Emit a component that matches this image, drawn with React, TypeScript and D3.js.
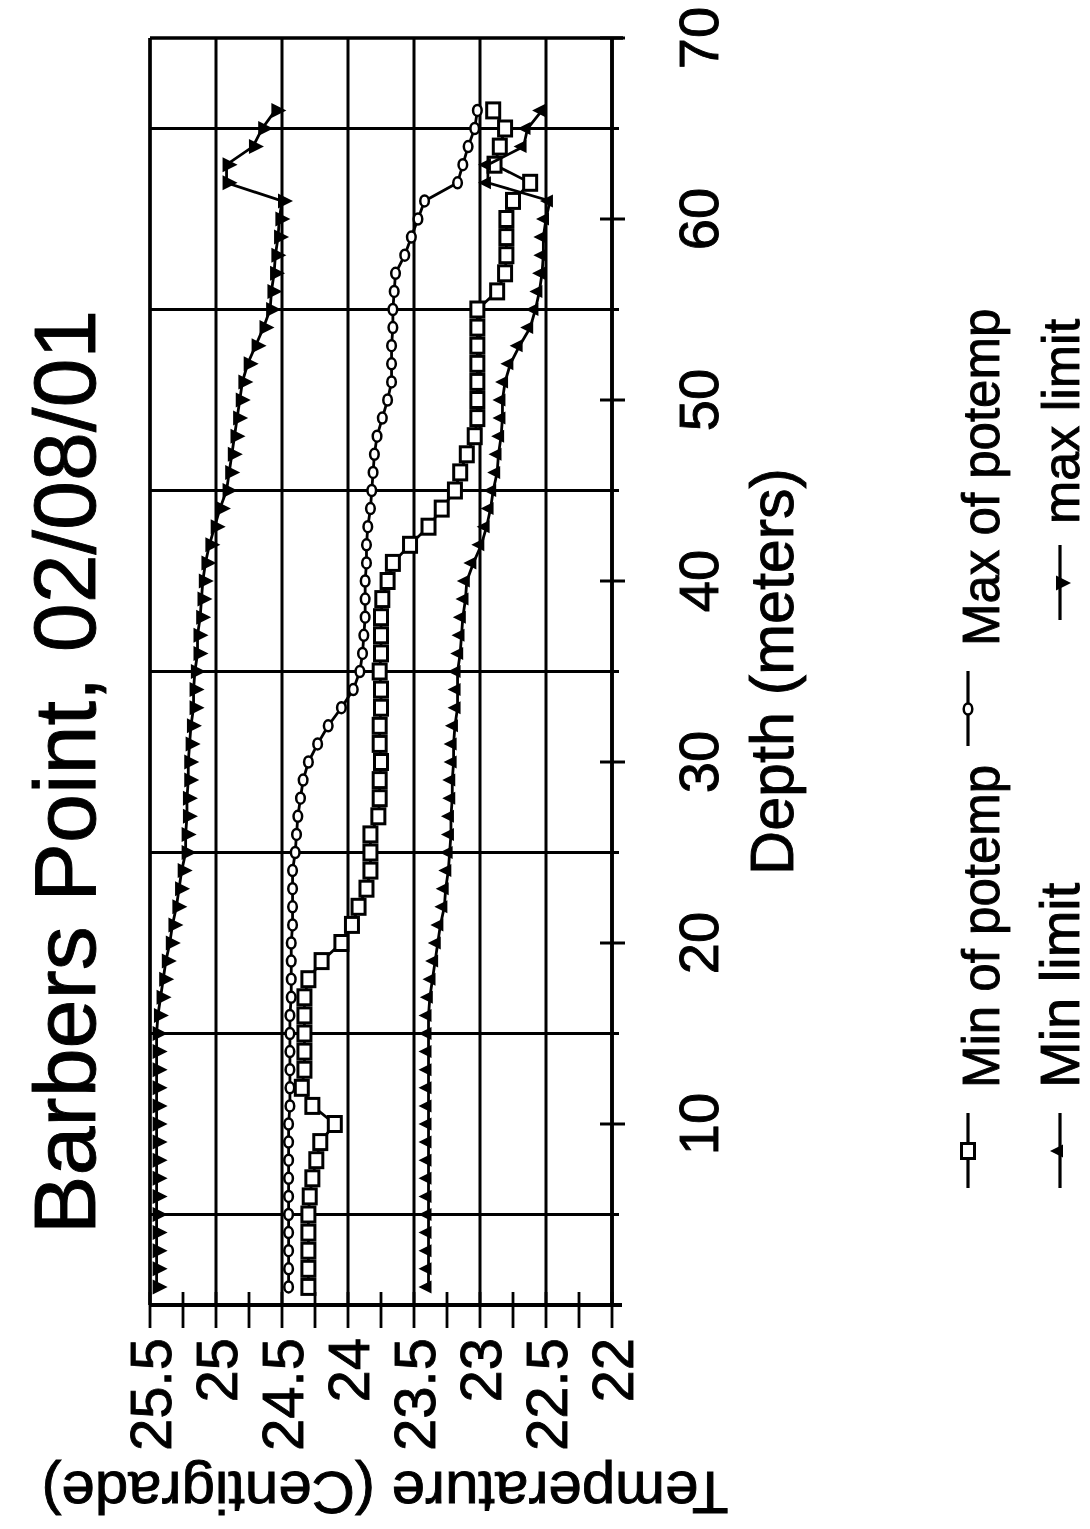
import React from 'react';
import * as d3 from 'd3';

const depths = [1, 2, 3, 4, 5, 6, 7, 8, 9, 10, 11, 12, 13, 14, 15, 16, 17, 18, 19, 20, 21, 22, 23, 24, 25, 26, 27, 28, 29, 30, 31, 32, 33, 34, 35, 36, 37, 38, 39, 40, 41, 42, 43, 44, 45, 46, 47, 48, 49, 50, 51, 52, 53, 54, 55, 56, 57, 58, 59, 60, 61, 62, 63, 64, 65, 66];

const minPotemp = [24.30, 24.30, 24.30, 24.30, 24.30, 24.29, 24.27, 24.24, 24.21, 24.10, 24.27, 24.35, 24.33, 24.33, 24.33, 24.33, 24.33, 24.30, 24.20, 24.05, 23.97, 23.92, 23.86, 23.83, 23.83, 23.83, 23.77, 23.76, 23.76, 23.75, 23.76, 23.76, 23.75, 23.75, 23.76, 23.75, 23.75, 23.75, 23.74, 23.70, 23.66, 23.53, 23.39, 23.29, 23.19, 23.15, 23.10, 23.04, 23.02, 23.02, 23.02, 23.02, 23.02, 23.02, 23.02, 22.87, 22.81, 22.80, 22.80, 22.80, 22.75, 22.62, 22.89, 22.85, 22.81, 22.90];

const maxPotemp = [24.45, 24.45, 24.45, 24.45, 24.45, 24.45, 24.45, 24.45, 24.45, 24.45, 24.44, 24.44, 24.44, 24.44, 24.44, 24.44, 24.43, 24.43, 24.43, 24.43, 24.42, 24.42, 24.42, 24.42, 24.40, 24.39, 24.38, 24.36, 24.34, 24.30, 24.23, 24.15, 24.05, 23.96, 23.91, 23.89, 23.88, 23.87, 23.87, 23.87, 23.86, 23.86, 23.85, 23.83, 23.82, 23.81, 23.80, 23.78, 23.74, 23.70, 23.67, 23.67, 23.67, 23.66, 23.66, 23.65, 23.64, 23.57, 23.52, 23.47, 23.42, 23.17, 23.13, 23.09, 23.04, 23.02];

const minLimit = [23.39, 23.39, 23.39, 23.39, 23.39, 23.39, 23.39, 23.39, 23.39, 23.39, 23.39, 23.39, 23.39, 23.39, 23.39, 23.39, 23.38, 23.36, 23.34, 23.32, 23.30, 23.27, 23.26, 23.24, 23.23, 23.22, 23.22, 23.21, 23.21, 23.20, 23.20, 23.19, 23.17, 23.17, 23.17, 23.15, 23.14, 23.13, 23.11, 23.10, 23.05, 22.99, 22.95, 22.92, 22.90, 22.87, 22.86, 22.84, 22.83, 22.83, 22.81, 22.77, 22.70, 22.62, 22.58, 22.55, 22.53, 22.52, 22.52, 22.50, 22.47, 22.94, 22.94, 22.67, 22.64, 22.53];

const maxLimit = [25.45, 25.45, 25.45, 25.45, 25.45, 25.45, 25.45, 25.45, 25.45, 25.45, 25.45, 25.45, 25.45, 25.45, 25.45, 25.44, 25.42, 25.40, 25.38, 25.35, 25.33, 25.30, 25.28, 25.26, 25.23, 25.23, 25.22, 25.22, 25.21, 25.21, 25.20, 25.19, 25.17, 25.17, 25.16, 25.14, 25.14, 25.12, 25.11, 25.10, 25.08, 25.05, 25.01, 24.97, 24.92, 24.90, 24.88, 24.86, 24.84, 24.82, 24.80, 24.76, 24.70, 24.64, 24.59, 24.58, 24.56, 24.55, 24.53, 24.52, 24.50, 24.92, 24.92, 24.72, 24.65, 24.55];

const tempTickLabels = ['25.5', '25', '24.5', '24', '23.5', '23', '22.5', '22'];
const tempMinorTicks = [22, 22.25, 22.5, 22.75, 23, 23.25, 23.5, 23.75, 24, 24.25, 24.5, 24.75, 25, 25.25, 25.5];
const depthTickLabels = ['10', '20', '30', '40', '50', '60', '70'];
const depthGrid = [5, 15, 25, 35, 45, 55, 65];

const legendNames = ['Min of potemp', 'Max of potemp', 'Min limit', 'max limit'];

const FONT = '"Liberation Sans", Arial, Helvetica, sans-serif';
const W = 1090;
const H = 1529;

// Chart is drawn in its original (landscape) orientation, then rotated -90deg.
const x = d3.scaleLinear().domain([0, 70]).range([224, 1491]); // depth -> u
const y = d3.scaleLinear().domain([22, 25.5]).range([612, 150]); // temp -> v

type Pt = { d: number; t: number };
const mk = (vals: number[]): Pt[] => vals.map((t, i) => ({ d: depths[i], t }));

const line = d3
  .line<Pt>()
  .x((p) => x(p.d))
  .y((p) => y(p.t));

const Square = ({ cx, cy }: { cx: number; cy: number }) => (
  <rect x={cx - 7.5} y={cy - 6.5} width={15} height={13} fill="#fff" stroke="#000" strokeWidth={3} />
);
const Circle = ({ cx, cy }: { cx: number; cy: number }) => (
  <ellipse cx={cx} cy={cy} rx={5.5} ry={4.3} fill="#fff" stroke="#000" strokeWidth={2.5} />
);
const TriDown = ({ cx, cy }: { cx: number; cy: number }) => (
  <path d={`M${cx - 7.5},${cy - 4}L${cx + 7.5},${cy - 4}L${cx},${cy + 11}Z`} fill="#000" />
);
const TriUp = ({ cx, cy }: { cx: number; cy: number }) => (
  <path d={`M${cx - 6.5},${cy + 3}L${cx + 6.5},${cy + 3}L${cx},${cy - 10}Z`} fill="#000" />
);

const series = [
  { name: legendNames[0], data: mk(minPotemp), Marker: Square },
  { name: legendNames[1], data: mk(maxPotemp), Marker: Circle },
  { name: legendNames[2], data: mk(minLimit), Marker: TriUp },
  { name: legendNames[3], data: mk(maxLimit), Marker: TriDown },
];

// legend placements (original coordinates)
const legendPos = [
  { u: 341, v: 968, tu: 441, tv: 999, fs: 51 },
  { u: 783, v: 968, tu: 883, tv: 999, fs: 51 },
  { u: 341, v: 1060, tu: 441, tv: 1079, fs: 56 },
  { u: 909, v: 1060, tu: 1005, tv: 1079, fs: 52 },
];

const textStyle = { fill: '#000', stroke: '#000', strokeWidth: 0.9 };

export default function App() {
  const uL = x(0);
  const uR = x(70);
  const vT = y(25.5);
  const vB = y(22);
  return (
    <svg
      width={W}
      height={H}
      viewBox={`0 0 ${W} ${H}`}
      style={{ position: 'absolute', left: 0, top: 0, background: '#fff' }}
      fontFamily={FONT}
    >
      <rect x={0} y={0} width={W} height={H} fill="#fff" />
      <g transform={`translate(0,${H}) rotate(-90)`}>
        {/* title */}
        <text x={757} y={95} fontSize={88} textAnchor="middle" {...textStyle}>
          Barbers Point, 02/08/01
        </text>

        {/* temperature gridlines */}
        {tempTickLabels.map((lab) => {
          const v = y(+lab);
          return <line key={'tg' + lab} x1={uL} x2={uR} y1={v} y2={v} stroke="#000" strokeWidth={3} />;
        })}
        {/* depth gridlines */}
        {depthGrid.map((d) => (
          <line key={'dg' + d} x1={x(d)} x2={x(d)} y1={vT} y2={vB + 7} stroke="#000" strokeWidth={3} />
        ))}
        {/* depth major ticks */}
        {depthTickLabels.map((lab) => (
          <line key={'dt' + lab} x1={x(+lab)} x2={x(+lab)} y1={vB - 12} y2={vB + 13} stroke="#000" strokeWidth={3} />
        ))}
        {/* temperature ticks */}
        {tempMinorTicks.map((t) => (
          <line key={'tt' + t} x1={uL + 13} x2={uL - 23} y1={y(t)} y2={y(t)} stroke="#000" strokeWidth={2.8} />
        ))}
        {/* frame */}
        <line x1={uL} x2={uL} y1={vT} y2={vB + 10} stroke="#000" strokeWidth={3.8} />
        <line x1={uL} x2={uR} y1={vB} y2={vB} stroke="#000" strokeWidth={3.8} />
        <line x1={uL} x2={uR} y1={vT} y2={vT} stroke="#000" strokeWidth={3.4} />
        <line x1={uR} x2={uR} y1={vT} y2={vB + 11} stroke="#000" strokeWidth={3.4} />

        {/* temperature tick labels */}
        {tempTickLabels.map((lab) => (
          <text key={'tl' + lab} x={uL - 33} y={y(+lab)} dy="0.36em" fontSize={58} textAnchor="end" {...textStyle}>
            {lab}
          </text>
        ))}
        {/* depth tick labels */}
        {depthTickLabels.map((lab) => (
          <text key={'dl' + lab} x={x(+lab)} y={718} fontSize={56} textAnchor="middle" {...textStyle}>
            {lab}
          </text>
        ))}

        {/* axis titles */}
        <text x={(uL + uR) / 2} y={793} fontSize={61} textAnchor="middle" {...textStyle}>
          Depth (meters)
        </text>
        <text
          transform={`translate(57,385) rotate(-90)`}
          fontSize={60}
          textAnchor="middle"
          {...textStyle}
        >
          Temperature (Centigrade)
        </text>

        {/* series */}
        {series.map((s) => (
          <g key={s.name}>
            <path d={line(s.data) || ''} fill="none" stroke="#000" strokeWidth={2.8} />
            {s.data.map((p, i) => (
              <s.Marker key={i} cx={x(p.d)} cy={y(p.t)} />
            ))}
          </g>
        ))}

        {/* legend */}
        {series.map((s, i) => {
          const L = legendPos[i];
          return (
            <g key={'lg' + i}>
              <line x1={L.u} x2={L.u + 75} y1={L.v} y2={L.v} stroke="#000" strokeWidth={3.2} />
              <s.Marker cx={L.u + 37} cy={L.v} />
              <text x={L.tu} y={L.tv} fontSize={L.fs} {...textStyle}>
                {s.name}
              </text>
            </g>
          );
        })}
      </g>
    </svg>
  );
}
